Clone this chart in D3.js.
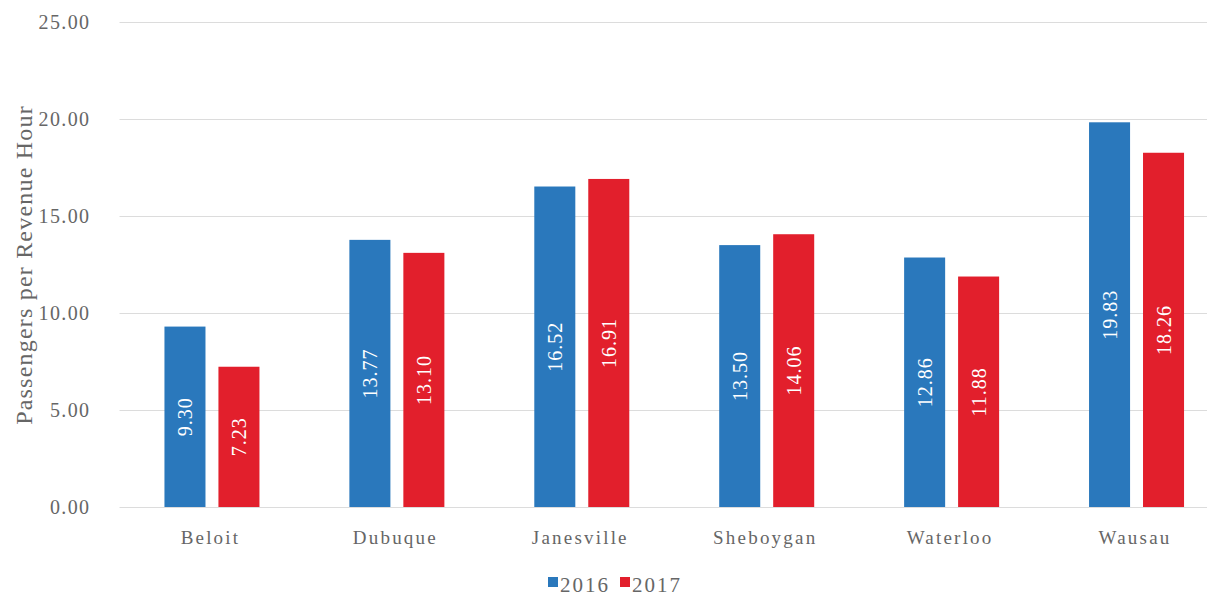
<!DOCTYPE html>
<html>
<head>
<meta charset="utf-8">
<script src="https://cdn.jsdelivr.net/npm/d3@7"></script>
<style>
  html, body { margin: 0; padding: 0; background: #fff; overflow: hidden; }
  svg { display: block; }
  text { font-family: "Liberation Serif", "DejaVu Serif", serif; }
</style>
</head>
<body>
<svg id="chart" width="1207" height="597"></svg>
<script>
// Passengers per revenue hour by city, 2016 vs 2017
const categories = ["Beloit", "Dubuque", "Janesville", "Sheboygan", "Waterloo", "Wausau"];
const seriesNames = ["2016", "2017"];
const values2016 = [9.30, 13.77, 16.52, 13.50, 12.86, 19.83];
const values2017 = [7.23, 13.10, 16.91, 14.06, 11.88, 18.26];
const yTicks = [0, 5, 10, 15, 20, 25];
const yTitle = "Passengers per Revenue Hour";

const colors = { "2016": "#2a78bc", "2017": "#e21f2c" };
const seriesValues = { "2016": values2016, "2017": values2017 };

const svg = d3.select("#chart");
const W = 1207, H = 597;

const y = d3.scaleLinear().domain([0, 25]).range([507, 22]);
const x0 = d3.scaleBand().domain(categories).range([119.5, 1229]).paddingInner(0).paddingOuter(0);
const groupW = 95;
const x1 = d3.scaleBand().domain(seriesNames).range([0, groupW]).paddingInner(0.24);
const groupOffset = (x0.bandwidth() - groupW) / 2;

// Horizontal gridlines and value ticks
const yAxis = d3.axisLeft(y).tickValues(yTicks).tickSize(-(W - 119.5)).tickFormat(d3.format(".2f"));
const gAxis = svg.append("g").attr("transform", "translate(119.5,0)").call(yAxis);
gAxis.select(".domain").remove();
gAxis.selectAll(".tick line").attr("stroke", "#dcdcdc").attr("stroke-width", 1);
gAxis.selectAll(".tick text")
  .attr("x", -29)
  .attr("fill", "#666666")
  .style("font-size", "20px")
  .style("letter-spacing", "1.4px");

// Bars
const groups = svg.append("g").selectAll("g.cat")
  .data(categories)
  .join("g")
  .attr("class", "cat")
  .attr("transform", d => `translate(${x0(d) + groupOffset},0)`);

const barData = (c, i) => seriesNames.map(s => ({ cat: c, series: s, value: seriesValues[s][i] }));

groups.each(function (c, i) {
  const g = d3.select(this);
  const data = barData(c, i);
  g.selectAll("rect")
    .data(data)
    .join("rect")
    .attr("x", d => x1(d.series))
    .attr("width", x1.bandwidth())
    .attr("y", d => y(d.value))
    .attr("height", d => y(0) - y(d.value))
    .attr("fill", d => colors[d.series]);

  g.selectAll("text.val")
    .data(data)
    .join("text")
    .attr("class", "val")
    .attr("transform", d => `translate(${x1(d.series) + x1.bandwidth() / 2},${(y(d.value) + y(0)) / 2}) rotate(-90)`)
    .attr("text-anchor", "middle")
    .attr("dy", "0.35em")
    .attr("fill", "#ffffff")
    .style("font-size", "20px")
    .style("letter-spacing", "1px")
    .text(d => d.value.toFixed(2));
});

// Category labels
const xAxis = d3.axisBottom(x0).tickSize(0).tickPadding(0);
const gx = svg.append("g").attr("transform", `translate(${-1.5},${y(0)})`).call(xAxis);
gx.select(".domain").remove();
gx.selectAll(".tick text")
  .attr("y", 24)
  .attr("fill", "#666666")
  .style("font-size", "19px")
  .style("letter-spacing", "2.2px");

// Y axis title
svg.append("text")
  .attr("transform", `translate(32,265) rotate(-90)`)
  .attr("text-anchor", "middle")
  .attr("fill", "#666666")
  .style("font-size", "24px")
  .style("letter-spacing", "1.2px")
  .text(yTitle);

// Legend
const legend = svg.append("g").attr("transform", "translate(548,586)");
const legendItems = legend.selectAll("g")
  .data(seriesNames)
  .join("g")
  .attr("transform", (d, i) => `translate(${i * 72},0)`);
legendItems.append("rect")
  .attr("x", 0).attr("y", -9)
  .attr("width", 10).attr("height", 10)
  .attr("fill", d => colors[d]);
legendItems.append("text")
  .attr("x", 12).attr("y", 0)
  .attr("dy", "0.3em")
  .attr("fill", "#666666")
  .style("font-size", "21px")
  .style("letter-spacing", "2px")
  .text(d => d);
</script>
</body>
</html>
